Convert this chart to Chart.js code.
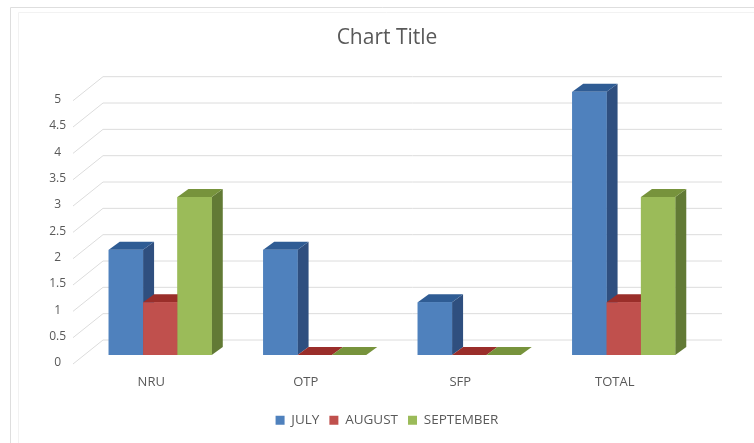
<!DOCTYPE html>
<html>
<head>
<meta charset="utf-8">
<title>Chart Title</title>
<script src="https://cdn.jsdelivr.net/npm/chart.js@4"></script>
<style>
    html, body { margin: 0; padding: 0; background: #fff; }
    #wrap { width: 754px; height: 443px; }
</style>
</head>
<body>
<div id="wrap"><canvas id="barChart"></canvas></div>
<script>
const categories = ["NRU", "OTP", "SFP", "TOTAL"];
const july = [2, 2, 1, 5];
const august = [1, 0, 0, 1];
const september = [3, 0, 0, 3];
const yTicks = [0, 0.5, 1, 1.5, 2, 2.5, 3, 3.5, 4, 4.5, 5];

const textColor = '#595959';
const fontName = '"Open Sans", "Noto Sans", sans-serif';

// fake 3D: bar depth and how far the back wall sits behind the bars
const depthX = 11, depthY = 8;
const wallX = 103, wallRight = 722, wallUp = 15, frontX = 73, frontDown = 9;

function poly(ctx, pts, color) {
    ctx.fillStyle = color;
    ctx.beginPath();
    pts.forEach(function(p, i) { i ? ctx.lineTo(p[0], p[1]) : ctx.moveTo(p[0], p[1]); });
    ctx.closePath();
    ctx.fill();
}

function frameLine(ctx, x, y, color) {
    ctx.strokeStyle = color;
    ctx.beginPath();
    ctx.moveTo(x, 443);
    ctx.lineTo(x, y);
    ctx.lineTo(754, y);
    ctx.stroke();
}

const wallPlugin = {
    id: 'wall',
    beforeDraw(chart) {
        const ctx = chart.ctx;
        // outer frame of the screenshot, with its faint inner edge
        ctx.save();
        ctx.lineWidth = 1;
        frameLine(ctx, 10.5, 7.5, '#dedede');
        frameLine(ctx, 18.5, 12.5, '#f2f2f2');
        ctx.restore();
    },
    beforeDatasetsDraw(chart) {
        const ctx = chart.ctx, y = chart.scales.y;
        ctx.save();
        ctx.strokeStyle = '#dcdcdc';
        ctx.lineWidth = 1;
        yTicks.forEach(function(v) {
            const py = y.getPixelForValue(v);
            ctx.beginPath();
            ctx.moveTo(frontX, py + frontDown);
            ctx.lineTo(wallX, py - wallUp);
            ctx.lineTo(wallRight, py - wallUp);
            ctx.stroke();
        });
        ctx.restore();
    },
    afterDatasetsDraw(chart) {
        const ctx = chart.ctx;
        // left to right: side and top of a bar, then its front again so the next bar covers the last side
        chart.data.datasets.forEach(function(ds, i) {
            chart.getDatasetMeta(i).data.forEach(function(bar) {
                const p = bar.getProps(['x', 'y', 'base', 'width'], true);
                const l = p.x - p.width / 2, r = p.x + p.width / 2;
                ctx.save();
                poly(ctx, [[r, p.base], [r + depthX, p.base - depthY], [r + depthX, p.y - depthY], [r, p.y]], ds.sideColor);
                poly(ctx, [[l, p.y], [l + depthX, p.y - depthY], [r + depthX, p.y - depthY], [r, p.y]], ds.topColor);
                ctx.restore();
                bar.draw(ctx);
            });
        });
    }
};

new Chart(document.getElementById('barChart').getContext('2d'), {
    type: 'bar',
    plugins: [wallPlugin],
    data: {
        labels: categories,
        datasets: [
            { label: 'JULY', data: july, backgroundColor: '#4F81BD', sideColor: '#2F4F7F', topColor: '#2F5C94' },
            { label: 'AUGUST', data: august, backgroundColor: '#C0504D', sideColor: '#8E2F2C', topColor: '#9A2E2A' },
            { label: 'SEPTEMBER', data: september, backgroundColor: '#9BBB59', sideColor: '#627A35', topColor: '#77933C' }
        ]
    },
    options: {
        responsive: true,
        maintainAspectRatio: false,
        animation: false,
        layout: { padding: { left: 45, right: 25, top: 0, bottom: 6 } },
        datasets: { bar: { categoryPercentage: 0.667, barPercentage: 1 } },
        plugins: {
            tooltip: { enabled: false },
            title: {
                display: true,
                text: 'Chart Title',
                color: textColor,
                font: { family: fontName, size: 21, weight: 'normal' },
                padding: { top: 25, bottom: 41.5 }
            },
            legend: {
                position: 'bottom',
                labels: {
                    color: textColor,
                    font: { family: fontName, size: 13.5 },
                    boxWidth: 9,
                    boxHeight: 9,
                    padding: 10
                }
            }
        },
        scales: {
            x: {
                grid: { display: false, drawTicks: false },
                border: { display: false },
                afterFit(scale) { scale.height = 48.5; },
                ticks: {
                    color: textColor,
                    font: { family: fontName, size: 13 },
                    padding: 19,
                    labelOffset: -9,
                    maxRotation: 0
                }
            },
            y: {
                min: 0,
                max: 5,
                grid: { display: false, drawTicks: false },
                border: { display: false },
                afterFit(scale) { scale.width = 38; },
                afterBuildTicks(scale) { scale.ticks = yTicks.map(function(v) { return { value: v }; }); },
                ticks: {
                    color: textColor,
                    font: { family: fontName, size: 12 },
                    padding: 17,
                    crossAlign: 'center',
                    labelOffset: 8,
                    callback: function(v) { return String(v); }
                }
            },
            // empty axis that only holds the space right of the plot
            spacer: {
                position: 'right',
                grid: { display: false, drawTicks: false },
                border: { display: false },
                ticks: { display: false },
                afterFit(scale) { scale.width = 28; }
            }
        }
    }
});
</script>
</body>
</html>
